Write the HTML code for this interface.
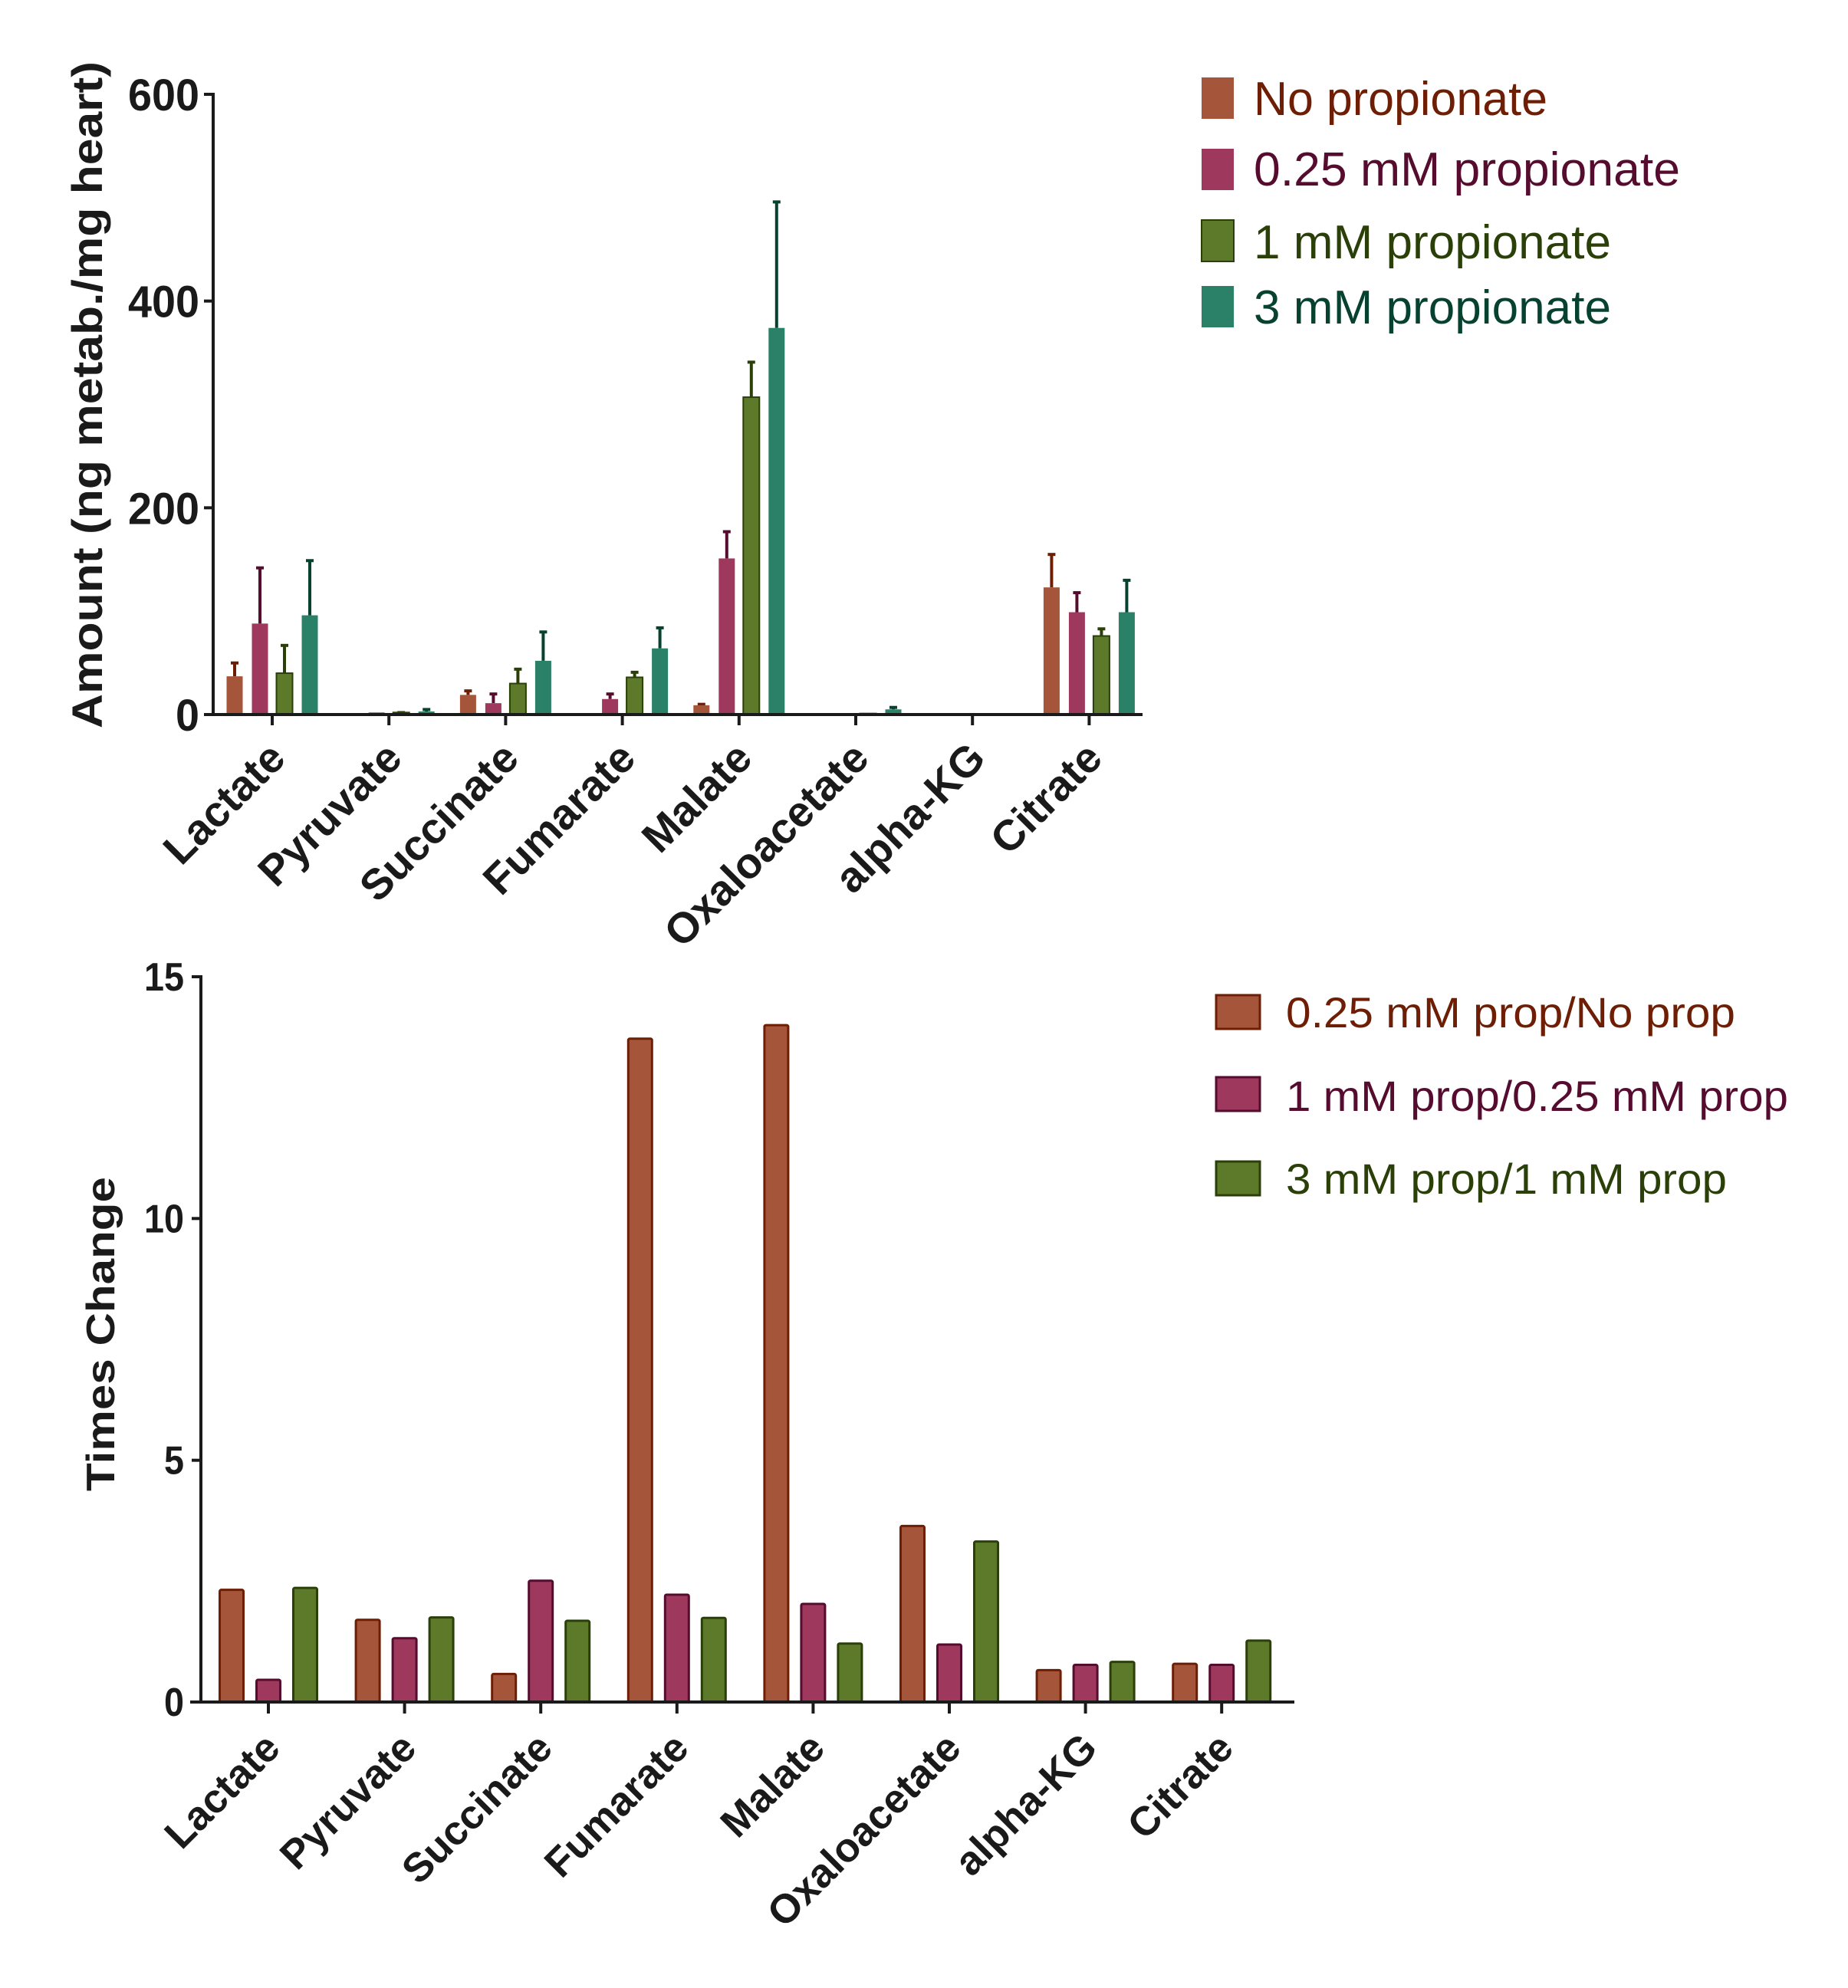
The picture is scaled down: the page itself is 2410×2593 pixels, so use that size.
<!DOCTYPE html>
<html><head><meta charset="utf-8"><style>
html,body{margin:0;padding:0;background:#fff;}
svg{display:block;font-family:"Liberation Sans",Arial,sans-serif;}
</style></head><body>
<svg id="chart" width="2410" height="2593" viewBox="0 0 2410 2593" xmlns="http://www.w3.org/2000/svg">
<g id="top"></g>
<g id="bot"></g>
</svg>
<script>
const categories = ["Lactate","Pyruvate","Succinate","Fumarate","Malate","Oxaloacetate","alpha-KG","Citrate"];
const topSeriesNames = ["No propionate","0.25 mM propionate","1 mM propionate","3 mM propionate"];
const topNone = [37,1,19,1,9,0,1,123];
const topNoneErr = [51,1,24,1,11,0,1,156];
const top025 = [88,2,11,15,151,1,0,99];
const top025Err = [143,2,21,21,178,1,0,119];
const top1 = [40,2,30,36,307,1,0,76];
const top1Err = [68,3,45,42,342,1,0,84];
const top3 = [96,3,52,64,374,5,0,99];
const top3Err = [150,6,81,85,497,8,0,131];
const topTicks = [0,200,400,600];
const botSeriesNames = ["0.25 mM prop/No prop","1 mM prop/0.25 mM prop","3 mM prop/1 mM prop"];
const bot025 = [2.32,1.70,0.58,13.72,14.0,3.64,0.66,0.79];
const bot1 = [0.46,1.32,2.51,2.22,2.03,1.19,0.77,0.77];
const bot3 = [2.36,1.75,1.68,1.74,1.21,3.32,0.83,1.27];
const botTicks = [0,5,10,15];

const NS="http://www.w3.org/2000/svg";
function mk(parent,tag,attrs,text){const e=document.createElementNS(NS,tag);for(const k in attrs)e.setAttribute(k,attrs[k]);if(text!==undefined)e.textContent=text;parent.appendChild(e);return e;}
const fills=["#a5563a","#9e385d","#5d7a2b","#2b8068"];
const darks=["#6e1e05","#560c2e","#2a4008","#074231"];

// ---------- TOP ----------
const T=document.getElementById('top');
const tx0=278,ty0=932,tyScale=(932-123)/600;
const tY=v=>ty0-v*tyScale;
const tX=i=>355+152.2*i;
const topVals=[topNone,top025,top1,top3];
const topErrs=[topNoneErr,top025Err,top1Err,top3Err];
const offs=[-49,-16,16,49];
for(let s=0;s<4;s++){
  for(let i=0;i<categories.length;i++){
    const cx=tX(i)+offs[s],v=topVals[s][i],e=topErrs[s][i];
    if(e>v){
      const l=mk(T,'line',{x1:cx,x2:cx,y1:tY(v),y2:tY(e),stroke:darks[s],'stroke-width':4});
      
      
      const c=mk(T,'line',{x1:cx-5,x2:cx+5,y1:tY(e)+1.5,y2:tY(e)+1.5,stroke:darks[s],'stroke-width':4});
      
      
    }
    const h=Math.max(ty0-tY(v),1);
    const r=mk(T,'rect',{x:cx-10.5,y:ty0-h,width:21,height:h,fill:fills[s],stroke:s==2?darks[s]:'none','stroke-width':s==2?2:0});
    
    
  }
}
mk(T,'line',{x1:tx0,x2:tx0,y1:121,y2:934,stroke:'#1a1a1a','stroke-width':4});
mk(T,'line',{x1:266,x2:1490,y1:ty0,y2:ty0,stroke:'#1a1a1a','stroke-width':4});
for(const t of topTicks){
  mk(T,'line',{x1:266,x2:tx0,y1:tY(t),y2:tY(t),stroke:'#1a1a1a','stroke-width':4});
  const lab=mk(T,'text',{x:260,y:tY(t)+21,'text-anchor':'end','font-size':58,'font-weight':'bold',fill:'#1a1a1a',textLength:String(t).length*31,lengthAdjust:'spacingAndGlyphs'},String(t));
  
  
}
for(let i=0;i<categories.length;i++){
  mk(T,'line',{x1:tX(i),x2:tX(i),y1:ty0,y2:ty0+14,stroke:'#1a1a1a','stroke-width':4});
  const ax=tX(i)+20,ay=992;
  const lab=mk(T,'text',{x:ax,y:ay,'text-anchor':'end','font-size':56,'font-weight':'bold',fill:'#1a1a1a',transform:`rotate(-45 ${ax} ${ay})`},categories[i]);
  
  
}
const yt=mk(T,'text',{x:0,y:0,'text-anchor':'middle','font-size':56,'font-weight':'bold',fill:'#1a1a1a',transform:'translate(133 515) rotate(-90)',textLength:870,lengthAdjust:'spacingAndGlyphs'},'Amount (ng metab./mg heart)');


const legY=[101,194,287,373],legB=[150,242,337,422],legW=[383,556,466,466];
for(let s=0;s<4;s++){
  const g=mk(T,'g',{});
  
  
  mk(g,'rect',{x:1567,y:legY[s],width:42,height:54,fill:fills[s],stroke:s==2?darks[s]:'none','stroke-width':s==2?2:0});
  mk(g,'text',{x:1635,y:legB[s],'font-size':62,fill:darks[s],textLength:legW[s],lengthAdjust:'spacingAndGlyphs'},topSeriesNames[s]);
}

// ---------- BOTTOM ----------
const B=document.getElementById('bot');
const bx0=262,by0=2220,byScale=(2220-1274)/15;
const bY=v=>by0-v*byScale;
const bX=i=>350+177.6*i;
const botVals=[bot025,bot1,bot3];
const boffs=[-48,0,48];
for(let s=0;s<3;s++){
  for(let i=0;i<categories.length;i++){
    const cx=bX(i)+boffs[s],v=botVals[s][i];
    const r=mk(B,'rect',{x:cx-15.5,y:bY(v),width:31,height:by0-bY(v),fill:fills[s],stroke:darks[s],'stroke-width':3,rx:2});
    
    
  }
}
mk(B,'line',{x1:bx0,x2:bx0,y1:1272,y2:2222,stroke:'#1a1a1a','stroke-width':4});
mk(B,'line',{x1:248,x2:1688,y1:by0,y2:by0,stroke:'#1a1a1a','stroke-width':4});
for(const t of botTicks){
  mk(B,'line',{x1:250,x2:bx0,y1:bY(t),y2:bY(t),stroke:'#1a1a1a','stroke-width':4});
  const lab=mk(B,'text',{x:240,y:bY(t)+18,'text-anchor':'end','font-size':52,'font-weight':'bold',fill:'#1a1a1a',textLength:String(t).length*26,lengthAdjust:'spacingAndGlyphs'},String(t));
  
  
}
for(let i=0;i<categories.length;i++){
  mk(B,'line',{x1:bX(i),x2:bX(i),y1:by0,y2:by0+15,stroke:'#1a1a1a','stroke-width':4});
  const ax=bX(i)+18,ay=2283;
  const lab=mk(B,'text',{x:ax,y:ay,'text-anchor':'end','font-size':53,'font-weight':'bold',fill:'#1a1a1a',transform:`rotate(-45 ${ax} ${ay})`},categories[i]);
  
  
}
const yb=mk(B,'text',{x:0,y:0,'text-anchor':'middle','font-size':52,'font-weight':'bold',fill:'#1a1a1a',transform:'translate(149 1740) rotate(-90)',textLength:410,lengthAdjust:'spacingAndGlyphs','xml:space':'preserve'},'Times  Change');


const blY=[1298,1405,1515],blB=[1340,1449,1557],blW=[586,655,575];
for(let s=0;s<3;s++){
  const g=mk(B,'g',{});
  
  
  mk(g,'rect',{x:1586,y:blY[s],width:57,height:44,fill:fills[s],stroke:darks[s],'stroke-width':3});
  mk(g,'text',{x:1677,y:blB[s],'font-size':56,fill:darks[s],textLength:blW[s],lengthAdjust:'spacingAndGlyphs'},botSeriesNames[s]);
}
</script>
</body></html>
